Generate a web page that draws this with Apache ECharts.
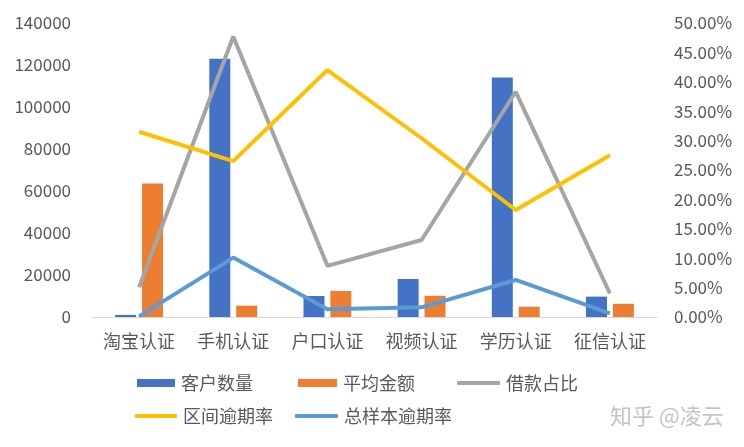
<!DOCTYPE html>
<html>
<head>
<meta charset="utf-8">
<script src="https://cdn.jsdelivr.net/npm/echarts@6/dist/echarts.min.js"></script>
<style>
html,body{margin:0;padding:0;background:#fff;}
#chart{width:744px;height:447px;}
</style>
</head>
<body>
<div id="chart"></div>
<script>
const categories = ['淘宝认证', '手机认证', '户口认证', '视频认证', '学历认证', '征信认证'];
const customerCount = [1000, 123000, 10000, 18100, 114000, 9700];
const avgAmount = [63600, 5400, 12400, 10100, 4900, 6300];
const loanShare = [0.0505, 0.477, 0.087, 0.131, 0.383, 0.040];
const intervalOverdue = [0.315, 0.265, 0.420, 0.304, 0.182, 0.275];
const totalOverdue = [0.001, 0.101, 0.013, 0.0165, 0.063, 0.0063];
const leftTicks = {min: 0, max: 140000, interval: 20000};
const rightTicks = {min: 0, max: 0.5, interval: 0.05};

const FONT = "'Noto Sans CJK SC', 'Noto Sans', sans-serif";
const TXT = '#595959';
const chart = echarts.init(document.getElementById('chart'));

function lg(name, left, top, w, h, icon) {
  return {
    data: [{name: name, icon: icon}],
    left: left, top: top, itemWidth: w, itemHeight: h, itemGap: 0,
    padding: 0, selectedMode: false,
    textStyle: {fontFamily: FONT, fontSize: 18, color: TXT, padding: [0, 0, 0, 1]}
  };
}

chart.setOption({
  backgroundColor: '#fff',
  animation: false,
  textStyle: {fontFamily: FONT},
  grid: {left: 92, right: 87, top: 23, bottom: 130, containLabel: false},
  legend: [
    lg('客户数量', 137, 374, 38, 8, 'rect'),
    lg('平均金额', 298, 374, 39, 8, 'rect'),
    lg('借款占比', 457, 374, 43, 4, 'roundRect'),
    lg('区间逾期率', 135, 407, 42, 4, 'roundRect'),
    lg('总样本逾期率', 295, 407, 43, 4, 'roundRect')
  ],
  xAxis: {
    type: 'category', data: categories,
    axisLine: {lineStyle: {color: '#d9d9d9', width: 1}},
    axisTick: {show: false},
    axisLabel: {fontFamily: FONT, fontSize: 18, color: TXT, margin: 15}
  },
  yAxis: [
    {type: 'value', min: leftTicks.min, max: leftTicks.max, interval: leftTicks.interval,
     splitLine: {show: false}, axisLine: {show: false}, axisTick: {show: false},
     axisLabel: {fontFamily: FONT, fontSize: 17, color: TXT, margin: 21,
       formatter: v => String(v)}},
    {type: 'value', min: rightTicks.min, max: rightTicks.max, interval: rightTicks.interval,
     splitLine: {show: false}, axisLine: {show: false}, axisTick: {show: false},
     axisLabel: {fontFamily: FONT, fontSize: 17, color: TXT, margin: 17,
       formatter: v => (v * 100).toFixed(2) + '%'}}
  ],
  series: [
    {name: '客户数量', type: 'bar', data: customerCount, barWidth: 21, barGap: '28%',
     itemStyle: {color: '#4472C4'}},
    {name: '平均金额', type: 'bar', data: avgAmount, barWidth: 21,
     itemStyle: {color: '#ED7D31'}},
    {name: '借款占比', type: 'line', yAxisIndex: 1, data: loanShare, symbol: 'none',
     lineStyle: {color: '#A5A5A5', width: 4}, itemStyle: {color: '#A5A5A5'}},
    {name: '区间逾期率', type: 'line', yAxisIndex: 1, data: intervalOverdue, symbol: 'none',
     lineStyle: {color: '#FFC000', width: 4}, itemStyle: {color: '#FFC000'}},
    {name: '总样本逾期率', type: 'line', yAxisIndex: 1, data: totalOverdue, symbol: 'none',
     lineStyle: {color: '#5B9BD5', width: 4}, itemStyle: {color: '#5B9BD5'}}
  ],
  graphic: [{
    type: 'text', left: 610, top: 405,
    style: {text: '知乎 @凌云', font: "22px 'Noto Sans CJK SC'", fill: '#c4c4c4'}
  }]
});
</script>
</body>
</html>
